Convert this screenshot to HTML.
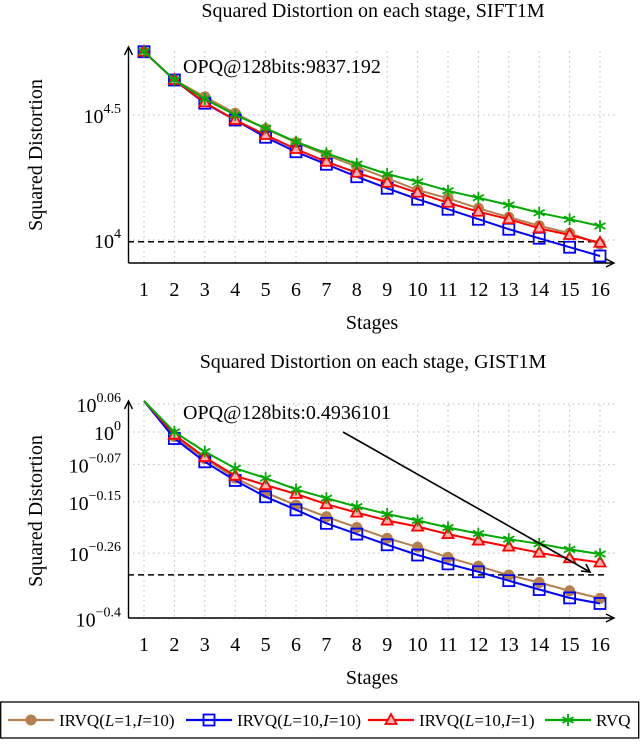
<!DOCTYPE html>
<html><head><meta charset="utf-8"><style>
body{margin:0;background:#fff;width:640px;height:740px;overflow:hidden}
svg{font-family:"Liberation Serif",serif}
</style></head><body>
<svg id="s" width="640" height="740"></svg>
<script>
const stages=[1,2,3,4,5,6,7,8,9,10,11,12,13,14,15,16];
const siftL1I10=[4.753,4.64,4.573,4.507,4.445,4.39,4.34,4.293,4.247,4.2,4.167,4.127,4.091,4.057,4.027,3.984];
const siftL10I10=[4.753,4.64,4.547,4.48,4.411,4.353,4.303,4.253,4.207,4.163,4.123,4.083,4.043,4.007,3.971,3.936];
const siftL10I1=[4.753,4.64,4.55,4.48,4.42,4.364,4.313,4.269,4.229,4.189,4.149,4.113,4.083,4.047,4.02,3.989];
const siftRVQ=[4.753,4.64,4.564,4.5,4.447,4.393,4.347,4.304,4.264,4.233,4.197,4.169,4.14,4.109,4.083,4.056];
const gistL1I10=[0.08,-0.01,-0.057,-0.099,-0.13,-0.157,-0.182,-0.205,-0.228,-0.247,-0.269,-0.288,-0.307,-0.323,-0.341,-0.357];
const gistL10I10=[0.08,-0.014,-0.064,-0.104,-0.139,-0.167,-0.196,-0.219,-0.242,-0.264,-0.283,-0.3,-0.319,-0.338,-0.356,-0.368];
const gistL10I1=[0.08,-0.006,-0.054,-0.094,-0.114,-0.133,-0.155,-0.173,-0.19,-0.203,-0.219,-0.233,-0.246,-0.259,-0.271,-0.28];
const gistRVQ=[0.08,0,-0.042,-0.078,-0.099,-0.123,-0.142,-0.16,-0.176,-0.19,-0.205,-0.218,-0.23,-0.24,-0.252,-0.262];
const siftTicks=[4,4.5];
const siftTickLabels=["4","4.5"];
const gistTicks=[0.06,0,-0.07,-0.15,-0.26,-0.4];
const gistTickLabels=["0.06","0","−0.07","−0.15","−0.26","−0.4"];
const siftOPQ=Math.log10(9837.192);
const gistOPQ=Math.log10(0.4936101);
const seriesColors=["#b5804d","#0000ff","#ff0000","#00aa00"];

const NS="http://www.w3.org/2000/svg";
const svg=document.getElementById('s');
function mk(tag,attrs,parent){const e=document.createElementNS(NS,tag);for(const k in attrs)e.setAttribute(k,attrs[k]);(parent||svg).appendChild(e);return e;}
function txt(x,y,s,size,anchor,parent){const t=mk('text',{x:x,y:y,'font-size':size,'text-anchor':anchor||'middle'},parent);t.textContent=s;return t;}

function marker(g,kind,x,y,c){
  let m;
  if(kind===0){m=mk('circle',{cx:x,cy:y,r:5.5,fill:c},g);}
  else if(kind===1){m=mk('rect',{x:x-5.5,y:y-5.5,width:11,height:11,fill:'none',stroke:c,'stroke-width':1.8},g);}
  else if(kind===2){m=mk('path',{d:`M${x},${y-6}L${x+5.5},${y+4}L${x-5.5},${y+4}Z`,fill:'#ffb0b0',stroke:c,'stroke-width':1.8},g);}
  else {m=mk('path',{d:`M${x},${y-6}V${y+6}M${x-5.5},${y-3}L${x+5.5},${y+3}M${x-5.5},${y+3}L${x+5.5},${y-3}`,stroke:c,'stroke-width':1.8,fill:'none'},g);}
  
  
}

function chart(cfg){
  const g=mk('g',{});
  const X=v=>144+(v-1)*30.4;
  const Y=v=>cfg.y0+(cfg.v0-v)*cfg.k;
  const grid=mk('g',{stroke:'#bbb','stroke-width':1,'stroke-dasharray':'1.5,3.5'},g);
  stages.forEach(s=>mk('line',{x1:X(s),x2:X(s),y1:cfg.top+4,y2:cfg.bottom},grid));
  cfg.ticks.forEach(t=>mk('line',{x1:128,x2:616,y1:Y(t),y2:Y(t)},grid));
  const d=mk('line',{x1:128,x2:604,y1:Y(cfg.opq),y2:Y(cfg.opq),stroke:'#000','stroke-width':1.5,'stroke-dasharray':'6,4'},g);
  
  cfg.series.forEach((arr,i)=>{
    const sg=mk('g',{},g);
    let p='';
    const pts=stages.map((s,j)=>[X(s),Math.max(cfg.top,Y(arr[j]))]);
    pts.forEach((q,j)=>p+=(j?'L':'M')+q[0].toFixed(1)+','+q[1].toFixed(1));
    mk('path',{d:p,fill:'none',stroke:seriesColors[i],'stroke-width':2},sg);
    pts.forEach((q,j)=>{if(j>0)marker(sg,i,q[0],q[1],seriesColors[i]);});
    if(Y(arr[0])>cfg.top) marker(sg,i,pts[0][0],pts[0][1],seriesColors[i]);
  });
  const ax=mk('g',{stroke:'#000','stroke-width':1.4},g);
  mk('line',{x1:128.5,y1:cfg.bottom,x2:128.5,y2:cfg.top},ax);
  mk('line',{x1:128.5,y1:cfg.bottom,x2:613,y2:cfg.bottom},ax);
  mk('path',{d:`M124.5,${cfg.top+8}L128.5,${cfg.top}L132.5,${cfg.top+8}`,fill:'none'},ax);
  mk('path',{d:`M606,${cfg.bottom-4}L614,${cfg.bottom}L606,${cfg.bottom+4}`,fill:'none'},ax);
  stages.forEach(s=>{const t=txt(X(s),cfg.bottom+33,String(s),20,'middle',g);});
  cfg.ticks.forEach((v,i)=>{
    const t=mk('text',{x:121,y:Y(v)+8,'font-size':20,'text-anchor':'end'},g);
    t.innerHTML='10<tspan dy="-10" font-size="14">'+cfg.tickLabels[i]+'</tspan>';
    
  });
  const ti=txt(373,cfg.titleY,cfg.title,20,'middle',g);
  const xl=txt(372,cfg.bottom+66,'Stages',20,'middle',g);
  const yl=mk('text',{x:0,y:0,'font-size':20,'text-anchor':'middle',transform:`translate(42,${cfg.ylabY}) rotate(-90)`},g);
  yl.textContent='Squared Distortion';
  const an=txt(183,cfg.annY,cfg.ann,20,'start',g);
  return {g,X,Y};
}

chart({name:'sift-chart',top:47,bottom:263,y0:240,v0:4,k:250,ticks:siftTicks,tickLabels:siftTickLabels,opq:siftOPQ,
  series:[siftL1I10,siftL10I10,siftL10I1,siftRVQ],snames:['irvq-l1-i10','irvq-l10-i10','irvq-l10-i1','rvq'],
  title:'Squared Distortion on each stage, SIFT1M',titleY:17,ylabY:155,ann:'OPQ@128bits:9837.192',annY:73});
chart({name:'gist-chart',top:401,bottom:618,y0:432,v0:0,k:466,ticks:gistTicks,tickLabels:gistTickLabels,opq:gistOPQ,
  series:[gistL1I10,gistL10I10,gistL10I1,gistRVQ],snames:['irvq-l1-i10','irvq-l10-i10','irvq-l10-i1','rvq'],
  title:'Squared Distortion on each stage, GIST1M',titleY:368,ylabY:511,ann:'OPQ@128bits:0.4936101',annY:419});
const ar=mk('g',{stroke:'#000','stroke-width':1.6,fill:'none'});
mk('line',{x1:343,y1:432,x2:590,y2:572},ar);
mk('path',{d:'M581,571L590,572L586,564'},ar);
const lg=mk('g',{});
mk('rect',{x:0.7,y:702,width:638,height:36,fill:'#fff',stroke:'#000','stroke-width':1.3},lg);
const leg=[[8,55,'IRVQ(','L','=1,','I','=10)'],[186,242,'IRVQ(','L','=10,','I','=10)'],[368,425,'IRVQ(','L','=10,','I','=1)'],[545,602,'RVQ']];
leg.forEach((e,i)=>{
  const eg=mk('g',{},lg);
  mk('line',{x1:e[0],x2:e[0]+46,y1:720,y2:720,stroke:seriesColors[i],'stroke-width':2.2},eg);
  marker(eg,i,e[0]+23,720,seriesColors[i]);
  const t=mk('text',{x:e[0]+51,y:726,'font-size':17},eg);
  if(e.length>3)t.innerHTML=e[2]+'<tspan font-style="italic">'+e[3]+'</tspan>'+e[4]+'<tspan font-style="italic">'+e[5]+'</tspan>'+e[6];
  else t.textContent=e[2];
});
</script>
</body></html>
